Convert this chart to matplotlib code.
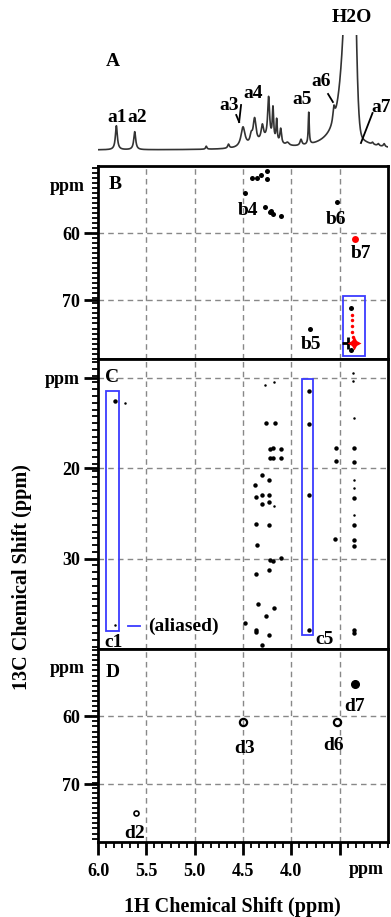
import numpy as np
import matplotlib
matplotlib.use("Agg")
import matplotlib.pyplot as plt
from matplotlib.patches import Rectangle
from matplotlib.ticker import MultipleLocator

plt.rcParams['font.family'] = ['Liberation Serif', 'DejaVu Serif']
plt.rcParams['font.weight'] = 'bold'

# ---------------- data ----------------
# Panel A: 1D 1H spectrum peak list (ppm, height, width, shape)
peak_ppm    = [5.81, 5.62, 4.88, 4.65, 4.50, 4.415, 4.38, 4.30, 4.235, 4.19, 4.152, 4.11, 4.04, 3.90, 3.82, 3.56, 4.25, 3.46, 3.50, 3.385, 3.16, 3.10, 3.04]
peak_height = [24, 18, 3, 4, 20, 8, 25, 15, 42, 32, 22, 15, 3, 6, 32, 14, 8, 80, 10, 400, 2, 2, 3]
peak_width  = [0.012, 0.012, 0.008, 0.010, 0.025, 0.015, 0.018, 0.015, 0.012, 0.008, 0.007, 0.010, 0.020, 0.012, 0.006, 0.012, 0.12, 0.06, 0.20, 0.035, 0.01, 0.01, 0.01]
peak_shape  = ['L'] * 19 + ['G'] + ['L'] * 3

a_labels = ['a1', 'a2', 'a3', 'a4', 'a5', 'a6', 'a7']
a_lab_ppm = [5.80, 5.59, 4.64, 4.40, 3.89, 3.69, 3.07]
a_lab_int = [33, 32, 45, 57, 50, 68, 43]

# Panel B (HSQC-type)
b_black_ppm = [4.41, 4.36, 4.31, 4.25, 4.25, 4.48, 4.27, 4.22, 4.19, 4.21, 4.11, 3.53, 3.81, 3.38, 3.38]
b_black_c   = [51.8, 51.8, 51.4, 50.8, 51.9, 54.0, 56.1, 56.9, 57.1, 56.7, 57.4, 55.4, 74.3, 71.2, 77.4]
b_cross_ppm, b_cross_c = [3.41], [76.4]
b_red_ppm = [3.34]
b_red_c   = [60.9]
b_reddot_ppm = [3.37, 3.37, 3.37, 3.37, 3.36]
b_reddot_c   = [72.2, 73.0, 73.9, 74.8, 75.5]
b_star_ppm, b_star_c = [3.35], [76.4]
b_labels = ['b4', 'b6', 'b7', 'b5']
b_lab_ppm = [4.45, 3.54, 3.28, 3.80]
b_lab_c = [56.6, 58.0, 63.1, 76.7]

# Panel C
c_big_ppm = [5.82, 4.26, 4.17, 4.22, 4.19, 4.11, 4.22, 4.19, 4.11, 4.30, 4.23, 4.38, 4.37, 4.30, 4.23,
             4.30, 4.23, 4.37, 4.23, 4.36, 4.22, 4.19, 4.11, 4.37, 4.23, 4.35, 4.18, 4.26, 4.48, 4.37,
             4.37, 4.23, 4.30, 3.82, 3.82, 3.82, 3.82, 3.54, 3.54, 3.55, 3.35, 3.35, 3.35, 3.35, 3.35,
             3.35, 3.35, 3.35]
c_big_c   = [12.6, 15.0, 15.0, 17.9, 17.7, 17.9, 18.9, 18.9, 18.9, 20.7, 21.3, 21.9, 23.2, 23.0, 22.9,
             24.0, 23.7, 26.2, 26.3, 28.5, 30.2, 30.3, 29.9, 31.7, 31.3, 35.0, 35.5, 36.4, 37.1, 37.9,
             38.1, 38.4, 39.6, 11.4, 15.1, 23.0, 37.9, 17.7, 19.2, 27.8, 17.7, 19.3, 23.3, 26.3, 27.9,
             28.6, 37.9, 38.2]
c_small_ppm = [5.72, 5.82, 4.27, 4.18, 4.18, 3.36, 3.35, 3.35, 3.35, 3.35, 3.36]
c_small_c   = [12.8, 37.3, 10.8, 10.5, 24.2, 9.5, 14.4, 21.3, 22.2, 25.2, 10.3]

# Panel D
d_open_ppm, d_open_c = [4.50, 3.53], [60.9, 60.9]
d_small_ppm, d_small_c = [5.61], [74.2]
d_fill_ppm, d_fill_c = [3.34], [55.3]
d_labels = ['d7', 'd3', 'd6', 'd2']
d_lab_ppm = [3.35, 4.48, 3.56, 5.62]
d_lab_c = [58.6, 64.8, 64.3, 77.2]

x_ticks = [6.0, 5.5, 5.0, 4.5, 4.0, 3.5]
x_tick_labels = ['6.0', '5.5', '5.0', '4.5', '4.0', '']

# ---------------- figure ----------------
W, H = 391, 917
fig = plt.figure(figsize=(W / 100, H / 100), dpi=100)

def add_ax(top_px, bot_px, left_px=98, right_px=388):
    return fig.add_axes([left_px / W, 1 - bot_px / H, (right_px - left_px) / W, (bot_px - top_px) / H])

FS_TICK = 13
FS_LAB = 14
FS_AXIS = 14.5
GRID = dict(color='#888888', linestyle=(0, (4, 3)), linewidth=1.0)
BLUE = '#3b3bff'

# ---- Panel A ----
axA = add_ax(35, 160)
x = np.linspace(6.0, 3.0, 3000)
spec = np.zeros_like(x)
for p, h, w, s in zip(peak_ppm, peak_height, peak_width, peak_shape):
    if s == 'L':
        spec += h * w ** 2 / ((x - p) ** 2 + w ** 2)
    else:
        spec += h * np.exp(-(x - p) ** 2 / (2 * w ** 2))
axA.plot(x, spec, color='#333333', lw=1.2)
axA.set_xlim(6.0, 3.0)
axA.set_ylim(-10, 115)
axA.axis('off')
axA.text(5.85, 88, 'A', fontsize=FS_LAB, ha='center', va='center')
axA.text(3.37, 132, 'H2O', fontsize=FS_LAB, ha='center', va='center', clip_on=False)
for t, px, py in zip(a_labels, a_lab_ppm, a_lab_int):
    axA.text(px, py, t, fontsize=FS_LAB, ha='center', va='center')
for (x0, y0, x1, y1) in [(4.57, 35, 4.54, 28), (4.52, 45, 4.54, 28), (3.62, 56, 3.57, 48), (3.16, 37, 3.28, 7)]:
    axA.plot([x0, x1], [y0, y1], color='black', lw=1.3)


def style_2d(ax, ylim, major, labels, bottom=False):
    ax.set_xlim(6.0, 3.0)
    ax.set_ylim(*ylim)
    ax.set_yticks(major)
    ax.set_yticklabels(labels)
    ax.yaxis.set_minor_locator(MultipleLocator(0.75))
    ax.tick_params(axis='y', which='major', direction='out', length=10, width=2, pad=3, labelsize=FS_TICK)
    ax.tick_params(axis='y', which='minor', direction='out', length=4, width=1.3)
    ax.set_xticks(x_ticks)
    for v in [5.5, 5.0, 4.5, 4.0, 3.5]:
        ax.axvline(v, zorder=0, **GRID)
    for v in major:
        ax.axhline(v, zorder=0, **GRID)
    if bottom:
        ax.set_xticklabels(x_tick_labels)
        ax.xaxis.set_minor_locator(MultipleLocator(0.5 / 6))
        ax.tick_params(axis='x', which='major', direction='out', length=9, width=2, pad=6, labelsize=FS_TICK)
        ax.tick_params(axis='x', which='minor', direction='out', length=4, width=1.3)
    else:
        ax.tick_params(axis='x', which='both', bottom=False, labelbottom=False)
    for sp in ax.spines.values():
        sp.set_linewidth(2.0)


# ---- Panel B ----
axB = add_ax(166, 359)
style_2d(axB, (78.8, 50.0), [60, 70], ['60', '70'])
axB.text(-0.045, 53, 'ppm', transform=axB.get_yaxis_transform(), ha='right', va='center', fontsize=FS_TICK)
axB.plot(b_black_ppm, b_black_c, 'o', color='black', ms=3.6, mec='none')
axB.plot(b_cross_ppm, b_cross_c, '+', color='black', ms=9, mew=2)
axB.plot(b_red_ppm, b_red_c, 'o', color='red', ms=5, mec='none')
axB.plot(b_reddot_ppm, b_reddot_c, 'o', color='red', ms=2.5, mec='none')
axB.plot(b_star_ppm, b_star_c, marker=(4, 1, 0), color='red', ms=10, mec='none', ls='none')
axB.add_patch(Rectangle((3.47, 69.4), -0.23, 8.9, fill=False, edgecolor=BLUE, lw=1.3))
axB.text(5.82, 52.8, 'B', fontsize=FS_LAB, ha='center', va='center')
for t, px, py in zip(b_labels, b_lab_ppm, b_lab_c):
    axB.text(px, py, t, fontsize=FS_LAB, ha='center', va='center')

# ---- Panel C ----
axC = add_ax(359, 649)
style_2d(axC, (40.0, 7.9), [10, 20, 30], ['ppm', '20', '30'])
axC.plot(c_big_ppm, c_big_c, 'o', color='black', ms=3.2, mec='none')
axC.plot(c_small_ppm, c_small_c, 'o', color='black', ms=1.8, mec='none')
axC.add_patch(Rectangle((5.92, 11.4), -0.14, 26.6, fill=False, edgecolor=BLUE, lw=1.3))
axC.add_patch(Rectangle((3.89, 10.1), -0.11, 28.4, fill=False, edgecolor=BLUE, lw=1.3))
axC.plot([5.69, 5.57], [37.5, 37.5], color=BLUE, lw=1.3)
axC.text(5.12, 37.5, '(aliased)', fontsize=FS_LAB, ha='center', va='center')
axC.text(5.85, 10.0, 'C', fontsize=FS_LAB, ha='center', va='center')
axC.text(5.84, 39.3, 'c1', fontsize=FS_LAB, ha='center', va='center')
axC.text(3.66, 39.0, 'c5', fontsize=FS_LAB, ha='center', va='center')

# ---- Panel D ----
axD = add_ax(649, 842)
style_2d(axD, (78.5, 50.1), [60, 70], ['60', '70'], bottom=True)
axD.text(-0.045, 53, 'ppm', transform=axD.get_yaxis_transform(), ha='right', va='center', fontsize=FS_TICK)
axD.plot(d_open_ppm, d_open_c, 'o', mfc='none', mec='black', ms=5.2, mew=1.6)
axD.plot(d_small_ppm, d_small_c, 'o', mfc='none', mec='black', ms=3.6, mew=1.2)
axD.plot(d_fill_ppm, d_fill_c, 'o', color='black', ms=5.5)
axD.text(5.85, 53.5, 'D', fontsize=FS_LAB, ha='center', va='center')
for t, px, py in zip(d_labels, d_lab_ppm, d_lab_c):
    axD.text(px, py, t, fontsize=FS_LAB, ha='center', va='center')
axD.text(3.22, -0.145, 'ppm', transform=axD.get_xaxis_transform(), ha='center', va='center', fontsize=FS_TICK)

fig.text(22 / W, 1 - 577 / H, '13C Chemical Shift (ppm)', rotation=90, ha='center', va='center', fontsize=FS_AXIS)
fig.text(232 / W, 1 - 907 / H, '1H Chemical Shift (ppm)', ha='center', va='center', fontsize=FS_AXIS)

fig.savefig('out.png', dpi=100)
